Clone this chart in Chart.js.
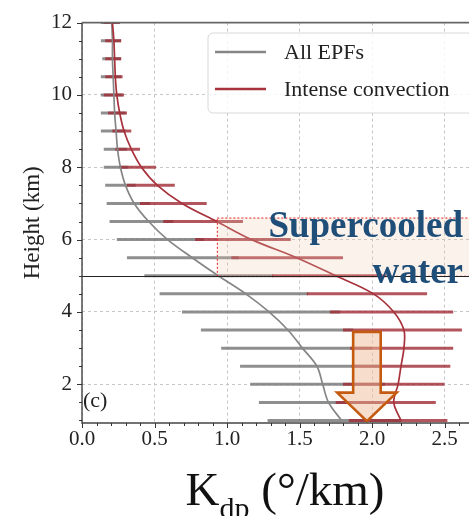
<!DOCTYPE html>
<html>
<head>
<meta charset="utf-8">
<script src="https://cdn.jsdelivr.net/npm/chart.js@4.4.0/dist/chart.umd.min.js"></script>
<style>
  html, body { margin: 0; padding: 0; background: #fff; overflow: hidden; width: 469px; height: 516px; }
  #wrap { width: 492px; height: 516px; }
</style>
</head>
<body>
<div id="wrap"><canvas id="kdpChart" width="492" height="516"></canvas></div>
<script>
// heights of the profile levels (km)
var heights = [12, 11.5, 11, 10.5, 10, 9.5, 9, 8.5, 8, 7.5, 7, 6.5, 6, 5.5, 5, 4.5, 4, 3.5, 3, 2.5, 2, 1.5, 1];

// All EPFs: mean Kdp and spread
var allMean = [0.205, 0.21, 0.21, 0.215, 0.22, 0.225, 0.235, 0.245, 0.265, 0.30, 0.36, 0.46, 0.59, 0.76, 0.94, 1.13, 1.29, 1.42, 1.52, 1.62, 1.66, 1.70, 1.79];
var allLo   = [0.13, 0.13, 0.14, 0.13, 0.13, 0.13, 0.13, 0.15, 0.15, 0.16, 0.17, 0.19, 0.24, 0.31, 0.43, 0.535, 0.69, 0.82, 0.96, 1.09, 1.16, 1.22, 1.28];
var allHi   = [0.26, 0.27, 0.27, 0.27, 0.28, 0.30, 0.30, 0.31, 0.32, 0.37, 0.47, 0.63, 0.84, 1.08, 1.32, 1.56, 1.78, 1.87, 2.00, 2.05, 2.09, 2.06, 2.20];

// Intense convection: mean Kdp and spread
var intMean = [0.21, 0.22, 0.225, 0.23, 0.24, 0.26, 0.29, 0.34, 0.41, 0.52, 0.69, 0.93, 1.17, 1.48, 1.75, 2.01, 2.15, 2.22, 2.22, 2.20, 2.18, 2.15, 2.20];
var intLo   = [0.15, 0.16, 0.16, 0.16, 0.15, 0.18, 0.21, 0.23, 0.26, 0.31, 0.40, 0.56, 0.78, 1.03, 1.31, 1.55, 1.71, 1.80, 1.85, 1.86, 1.80, 1.75, 1.84];
var intHi   = [0.26, 0.27, 0.27, 0.28, 0.29, 0.31, 0.34, 0.40, 0.51, 0.64, 0.86, 1.11, 1.44, 1.80, 2.10, 2.38, 2.56, 2.62, 2.56, 2.54, 2.50, 2.44, 2.52];

// axis ticks
var xTicks = [0, 0.5, 1.0, 1.5, 2.0, 2.5];
var yTicks = [2, 4, 6, 8, 10, 12];

// annotations (data coordinates)
var meltLevel = 5;
var boxX = [0.93, 2.8];
var boxY = [5.0, 6.61];
var arrowX = [1.87, 2.06, 2.06, 2.17, 1.965, 1.76, 1.87];
var arrowY = [3.45, 3.45, 1.77, 1.77, 0.98, 1.77, 1.77];

var serif = '"Liberation Serif", "Times New Roman", serif';
var grayColor = '#868686';
var redColor = '#a8323c';

function barSegments(lo, hi) {
    var pts = [];
    heights.forEach(function(h, i) {
        pts.push({x: lo[i], y: h}, {x: hi[i], y: h}, {x: NaN, y: null});
    });
    return pts;
}
function profile(vals) {
    return heights.map(function(h, i) { return {x: vals[i], y: h}; });
}

var decorations = {
    id: 'decorations',
    afterDatasetsDraw: function(chart) {
        var ctx = chart.ctx, xs = chart.scales.x, ys = chart.scales.y, area = chart.chartArea;
        ctx.save();

        // supercooled water layer
        var bx0 = xs.getPixelForValue(boxX[0]), bx1 = xs.getPixelForValue(boxX[1]);
        var by0 = ys.getPixelForValue(boxY[0]), by1 = ys.getPixelForValue(boxY[1]);
        ctx.fillStyle = 'rgba(240,200,175,0.24)';
        ctx.fillRect(bx0, by1, bx1 - bx0, by0 - by1);
        ctx.setLineDash([2, 2]);
        ctx.strokeStyle = '#e02424';
        ctx.lineWidth = 1;
        ctx.strokeRect(bx0 + 0.5, by1 + 0.5, bx1 - bx0, by0 - by1);
        ctx.setLineDash([]);

        // melting level
        var my = Math.round(ys.getPixelForValue(meltLevel)) + 0.5;
        ctx.strokeStyle = '#222';
        ctx.lineWidth = 1.2;
        ctx.beginPath();
        ctx.moveTo(area.left, my);
        ctx.lineTo(area.right, my);
        ctx.stroke();

        // arrow
        ctx.beginPath();
        arrowX.forEach(function(v, i) {
            var X = xs.getPixelForValue(v), Y = ys.getPixelForValue(arrowY[i]);
            if (i === 0) ctx.moveTo(X, Y); else ctx.lineTo(X, Y);
        });
        ctx.closePath();
        ctx.fillStyle = 'rgba(240,188,152,0.5)';
        ctx.fill();
        ctx.strokeStyle = '#c55a11';
        ctx.lineWidth = 2.6;
        ctx.lineJoin = 'miter';
        ctx.stroke();

        // annotation text
        ctx.fillStyle = '#1f4e79';
        ctx.font = 'bold 37px ' + serif;
        ctx.textAlign = 'right';
        ctx.textBaseline = 'alphabetic';
        ctx.fillText('Supercooled', 463, 237);
        ctx.fillText('water', 463, 283);

        ctx.fillStyle = '#222';
        ctx.font = '22px ' + serif;
        ctx.textAlign = 'left';
        ctx.fillText('(c)', area.left + 1, 407);

        ctx.restore();
    },
    afterDraw: function(chart) {
        var ctx = chart.ctx, xs = chart.scales.x, ys = chart.scales.y, area = chart.chartArea;
        ctx.save();

        // spines
        ctx.strokeStyle = '#444';
        ctx.lineWidth = 1.4;
        ctx.beginPath();
        ctx.moveTo(area.left, area.top);
        ctx.lineTo(area.left, area.bottom);
        ctx.lineTo(area.right, area.bottom);
        ctx.stroke();
        ctx.strokeStyle = '#666';
        ctx.lineWidth = 1.8;
        ctx.beginPath();
        ctx.moveTo(area.left, area.top);
        ctx.lineTo(area.right, area.top);
        ctx.stroke();

        // major and minor ticks
        ctx.strokeStyle = '#333';
        ctx.lineWidth = 1;
        ctx.beginPath();
        for (var k = 0; k <= 28; k++) {
            var X = Math.round(xs.getPixelForValue(k / 10)) + 0.5;
            var len = (k % 5 === 0) ? 5 : 3;
            ctx.moveTo(X, area.bottom);
            ctx.lineTo(X, area.bottom + len);
        }
        for (var j = 2; j <= 24; j++) {
            var Y = Math.round(ys.getPixelForValue(j / 2)) + 0.5;
            var l2 = (j % 4 === 0) ? 5 : 3;
            ctx.moveTo(area.left, Y);
            ctx.lineTo(area.left - l2, Y);
        }
        ctx.stroke();

        // legend
        var lx = 208, ly = 33, lw = 272, lh = 80, r = 5;
        ctx.beginPath();
        ctx.moveTo(lx + r, ly);
        ctx.lineTo(lx + lw - r, ly);
        ctx.arcTo(lx + lw, ly, lx + lw, ly + r, r);
        ctx.lineTo(lx + lw, ly + lh - r);
        ctx.arcTo(lx + lw, ly + lh, lx + lw - r, ly + lh, r);
        ctx.lineTo(lx + r, ly + lh);
        ctx.arcTo(lx, ly + lh, lx, ly + lh - r, r);
        ctx.lineTo(lx, ly + r);
        ctx.arcTo(lx, ly, lx + r, ly, r);
        ctx.closePath();
        ctx.fillStyle = 'rgba(255,255,255,0.82)';
        ctx.fill();
        ctx.strokeStyle = '#d8d8d8';
        ctx.lineWidth = 1;
        ctx.stroke();

        var entries = [['All EPFs', grayColor, 52], ['Intense convection', redColor, 89]];
        ctx.font = '22px ' + serif;
        ctx.textAlign = 'left';
        ctx.textBaseline = 'middle';
        entries.forEach(function(e) {
            ctx.strokeStyle = e[1];
            ctx.lineWidth = 2.5;
            ctx.beginPath();
            ctx.moveTo(215, e[2]);
            ctx.lineTo(266, e[2]);
            ctx.stroke();
            ctx.fillStyle = '#222';
            ctx.fillText(e[0], 284, e[2] + 1);
        });

        // y axis title
        ctx.save();
        ctx.translate(33, (area.top + area.bottom) / 2);
        ctx.rotate(-Math.PI / 2);
        ctx.font = '23px ' + serif;
        ctx.textAlign = 'center';
        ctx.textBaseline = 'middle';
        ctx.fillStyle = '#222';
        ctx.fillText('Height (km)', 0, 0);
        ctx.restore();

        // x axis title with subscript
        var big = '47px ' + serif, small = '30px ' + serif;
        ctx.textBaseline = 'alphabetic';
        ctx.textAlign = 'left';
        ctx.fillStyle = '#111';
        ctx.font = big;
        var wK = ctx.measureText('K').width;
        var wRest = ctx.measureText(' (\u00b0/km)').width;
        ctx.font = small;
        var wSub = ctx.measureText('dp').width;
        var x0 = (area.left + area.right) / 2 - (wK + wSub + wRest) / 2;
        var base = 505;
        ctx.font = big;
        ctx.fillText('K', x0, base);
        ctx.font = small;
        ctx.fillText('dp', x0 + wK, base + 13);
        ctx.font = big;
        ctx.fillText(' (\u00b0/km)', x0 + wK + wSub, base);

        ctx.restore();
    }
};

new Chart(document.getElementById('kdpChart'), {
    type: 'line',
    data: {
        datasets: [
            {
                label: 'All EPFs spread',
                data: barSegments(allLo, allHi),
                borderColor: 'rgba(128,128,128,0.88)',
                borderWidth: 3,
                pointRadius: 0,
                spanGaps: false,
                order: 4
            },
            {
                label: 'Intense convection spread',
                data: barSegments(intLo, intHi),
                borderColor: 'rgba(160,42,52,0.8)',
                borderWidth: 3,
                pointRadius: 0,
                spanGaps: false,
                order: 3
            },
            {
                label: 'All EPFs',
                data: profile(allMean),
                borderColor: grayColor,
                borderWidth: 1.7,
                pointRadius: 0,
                tension: 0.35,
                order: 2
            },
            {
                label: 'Intense convection',
                data: profile(intMean),
                borderColor: redColor,
                borderWidth: 1.7,
                pointRadius: 0,
                tension: 0.35,
                order: 1
            }
        ]
    },
    options: {
        responsive: false,
        animation: false,
        layout: { padding: { left: 0, top: 21, right: 4, bottom: 0 } },
        plugins: {
            legend: { display: false },
            tooltip: { enabled: false }
        },
        scales: {
            x: {
                type: 'linear',
                min: 0,
                max: 2.8,
                afterBuildTicks: function(scale) {
                    scale.ticks = xTicks.map(function(v) { return {value: v}; });
                },
                afterFit: function(scale) { scale.height = 93; },
                ticks: {
                    padding: 4,
                    color: '#222',
                    font: { family: serif, size: 21 },
                    maxRotation: 0,
                    autoSkip: false,
                    callback: function(v) { return Number(v).toFixed(1); }
                },
                grid: { color: '#c6c6c6', lineWidth: 1, drawTicks: false },
                border: { display: false, dash: [3, 3] }
            },
            y: {
                type: 'linear',
                min: 0.93,
                max: 12,
                afterBuildTicks: function(scale) {
                    scale.ticks = yTicks.map(function(v) { return {value: v}; });
                },
                afterFit: function(scale) { scale.width = 82; },
                ticks: {
                    padding: 10,
                    color: '#222',
                    font: { family: serif, size: 21 },
                    autoSkip: false
                },
                grid: { color: '#c6c6c6', lineWidth: 1, drawTicks: false },
                border: { display: false, dash: [3, 3] }
            }
        }
    },
    plugins: [decorations]
});
</script>
</body>
</html>
